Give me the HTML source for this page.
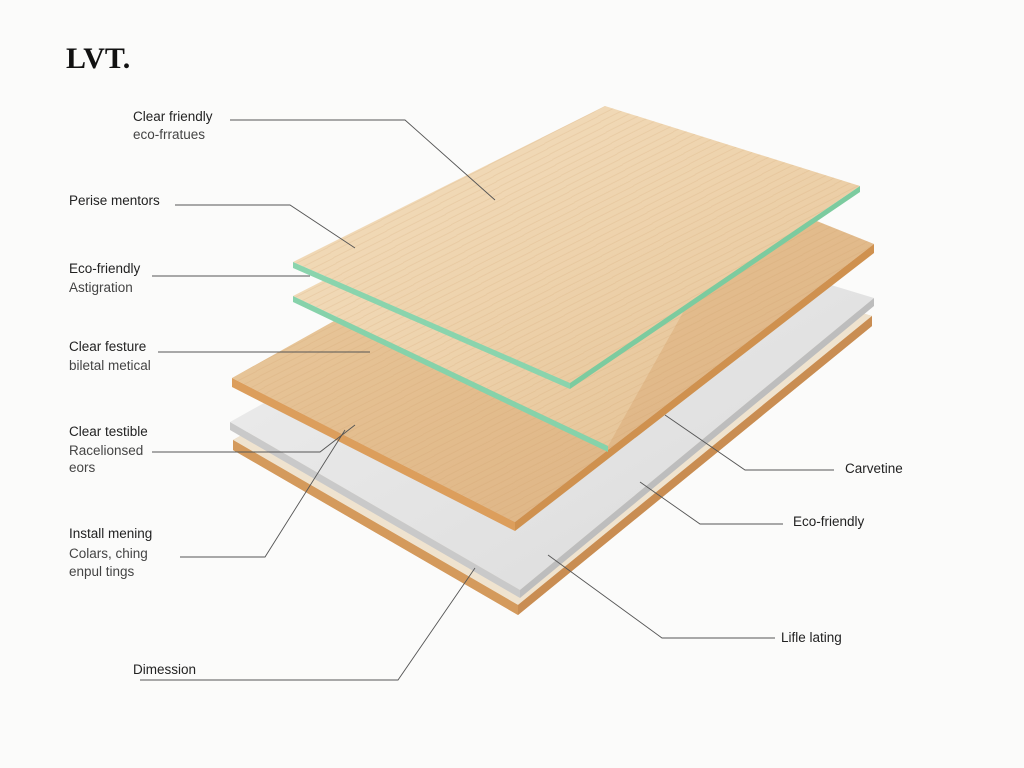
<!DOCTYPE html>
<html><head><meta charset="utf-8"><style>
html,body{margin:0;padding:0;background:#fbfbfa;}
svg{display:block}
text{font-family:"Liberation Sans",sans-serif;font-size:13.5px;fill:#222}
.s{fill:#444}
</style></head><body>
<svg width="1024" height="768" viewBox="0 0 1024 768" xmlns="http://www.w3.org/2000/svg">
<defs>
<linearGradient id="wood" x1="0" y1="0" x2="1" y2="1">
<stop offset="0" stop-color="#eccfa6"/><stop offset="0.5" stop-color="#e3bd8e"/><stop offset="1" stop-color="#dcb080"/>
</linearGradient>
<linearGradient id="wood2" x1="0" y1="0" x2="1" y2="1">
<stop offset="0" stop-color="#f3dfc0"/><stop offset="0.5" stop-color="#eed3ad"/><stop offset="1" stop-color="#e5c396"/>
</linearGradient>
<linearGradient id="foam" x1="0" y1="0" x2="1" y2="1">
<stop offset="0" stop-color="#efefef"/><stop offset="1" stop-color="#dadada"/>
</linearGradient>
<pattern id="grain" width="60" height="6" patternUnits="userSpaceOnUse" patternTransform="rotate(-27)">
<rect width="60" height="6" fill="none"/><path d="M0 3 L60 3.4" stroke="#c8945e" stroke-opacity="0.22" stroke-width="0.8"/>
</pattern>
</defs>
<rect width="1024" height="768" fill="#fbfbfa"/>
<text x="66" y="68" style="font-family:'Liberation Serif',serif;font-size:30px;font-weight:bold;fill:#111">LVT.</text>

<!-- base wood -->
<polygon points="233,440 600,240 872,316 872,326 518,615 233,450" fill="#d9a268"/>
<polygon points="233,440 600,230 872,316 518,605" fill="#efe3cf"/>
<polygon points="233,440 518,605 518,615 233,450" fill="#d49a5c"/>
<polygon points="518,605 872,316 872,326 518,615" fill="#c98d52"/>
<!-- foam -->
<polygon points="230,422 600,215 874,298 520,590" fill="url(#foam)"/>
<polygon points="230,422 520,590 520,598 230,430" fill="#c9c9c9"/>
<polygon points="520,590 874,298 874,306 520,598" fill="#bdbdbd"/>
<!-- wood layer 3 -->
<polygon points="232,378 640,150 874,244 515,522" fill="url(#wood)"/>
<polygon points="232,378 640,150 874,244 515,522" fill="url(#grain)"/>
<polygon points="232,378 515,522 515,531 232,387" fill="#dc9e5c"/>
<polygon points="515,522 874,244 874,253 515,531" fill="#cf914f"/>
<!-- glass layer 2 -->
<polygon points="293,296 560,160 690,300 608,446" fill="url(#wood2)"/>
<polygon points="293,296 560,160 690,300 608,446" fill="url(#grain)"/>
<polygon points="293,296 608,446 608,452 293,302" fill="#86d2aa"/>
<!-- top wood -->
<polygon points="293,262 605,106 860,186 570,383" fill="url(#wood2)"/>
<polygon points="293,262 605,106 860,186 570,383" fill="url(#grain)"/>
<polygon points="293,262 570,383 570,389 293,268" fill="#8ad4ad"/>
<polygon points="570,383 860,186 860,192 570,389" fill="#7ccb9f"/>

<!-- leader lines -->
<g stroke="#555" stroke-width="0.9" fill="none">
<polyline points="230,120 405,120 495,200"/>
<polyline points="175,205 290,205 355,248"/>
<polyline points="152,276 310,276"/>
<polyline points="158,352 370,352"/>
<polyline points="152,452 320,452 355,425"/>
<polyline points="180,557 265,557 345,430"/>
<polyline points="140,680 398,680 475,568"/>
<polyline points="834,470 745,470 665,415"/>
<polyline points="783,524 700,524 640,482"/>
<polyline points="775,638 662,638 548,555"/>
</g>

<text x="133" y="121">Clear friendly</text>
<text x="133" y="139" class="s">eco-frratues</text>
<text x="69" y="205">Perise mentors</text>
<text x="69" y="273">Eco-friendly</text>
<text x="69" y="292" class="s">Astigration</text>
<text x="69" y="351">Clear festure</text>
<text x="69" y="370" class="s">biletal metical</text>
<text x="69" y="436">Clear testible</text>
<text x="69" y="455" class="s">Racelionsed</text>
<text x="69" y="472" class="s">eors</text>
<text x="69" y="538">Install mening</text>
<text x="69" y="558" class="s">Colars, ching</text>
<text x="69" y="576" class="s">enpul tings</text>
<text x="133" y="674">Dimession</text>
<text x="845" y="473">Carvetine</text>
<text x="793" y="526">Eco-friendly</text>
<text x="781" y="642">Lifle lating</text>
</svg>
</body></html>
